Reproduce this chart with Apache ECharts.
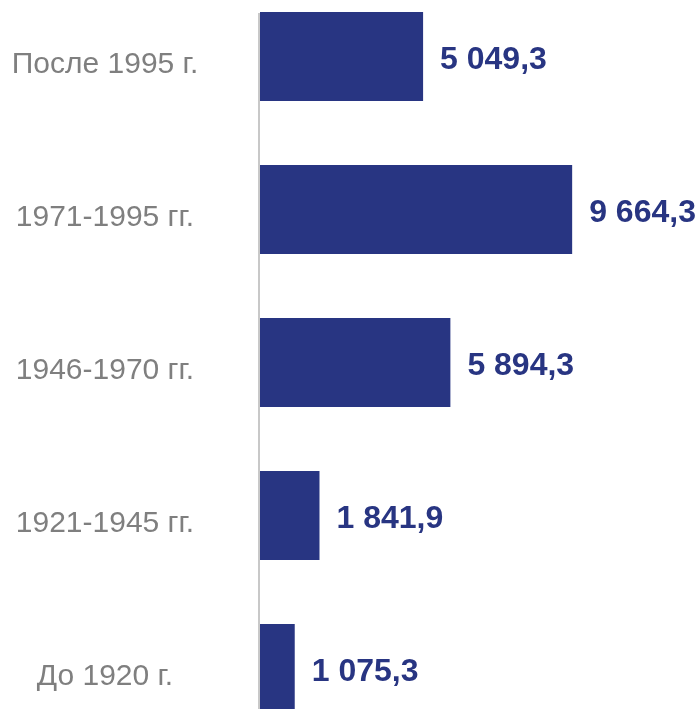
<!DOCTYPE html>
<html>
<head>
<meta charset="utf-8">
<script src="https://cdn.jsdelivr.net/npm/echarts@6/dist/echarts.min.js"></script>
<style>
  html, body { margin: 0; padding: 0; background: #fff; }
  #chart { width: 700px; height: 709px; }
</style>
</head>
<body>
<div id="chart"></div>
<script>
// периоды постройки (сверху вниз)
var periods = ['После 1995 г.', '1971-1995 гг.', '1946-1970 гг.', '1921-1945 гг.', 'До 1920 г.'];
var values = [5049.3, 9664.3, 5894.3, 1841.9, 1075.3];

var chart = echarts.init(document.getElementById('chart'), null, { renderer: 'canvas' });

function fmt(v) {
  var parts = v.toFixed(1).split('.');
  var int = parts[0].replace(/\B(?=(\d{3})+(?!\d))/g, ' ');
  return int + ',' + parts[1];
}

var option = {
  animation: false,
  grid: {
    left: 260,
    right: 117,
    top: -20,
    height: 765,
    outerBoundsMode: 'none'
  },
  xAxis: {
    type: 'value',
    min: 0,
    max: 10000,
    show: false
  },
  yAxis: {
    type: 'category',
    inverse: true,
    data: periods,
    axisLine: { show: false },
    axisTick: { show: false },
    axisLabel: {
      color: '#7f7f7f',
      fontSize: 30,
      fontFamily: 'Liberation Sans',
      align: 'center',
      verticalAlign: 'top',
      lineHeight: 16,
      margin: 155
    }
  },
  series: [{
    type: 'bar',
    data: values,
    barWidth: 89,
    itemStyle: { color: '#283582' },
    label: {
      show: true,
      position: 'right',
      distance: 17,
      offset: [0, 4],
      color: '#283582',
      fontSize: 32,
      fontWeight: 'bold',
      fontFamily: 'Liberation Sans',
      formatter: function (p) { return fmt(p.value); }
    },
    // вертикальная ось от верха первого столбца
    markLine: {
      silent: true,
      symbol: 'none',
      label: { show: false },
      lineStyle: { color: '#c8c8c8', width: 2, type: 'solid' },
      data: [[{ x: 259, y: 13 }, { x: 259, y: 709 }]]
    }
  }]
};

chart.setOption(option);
</script>
</body>
</html>
